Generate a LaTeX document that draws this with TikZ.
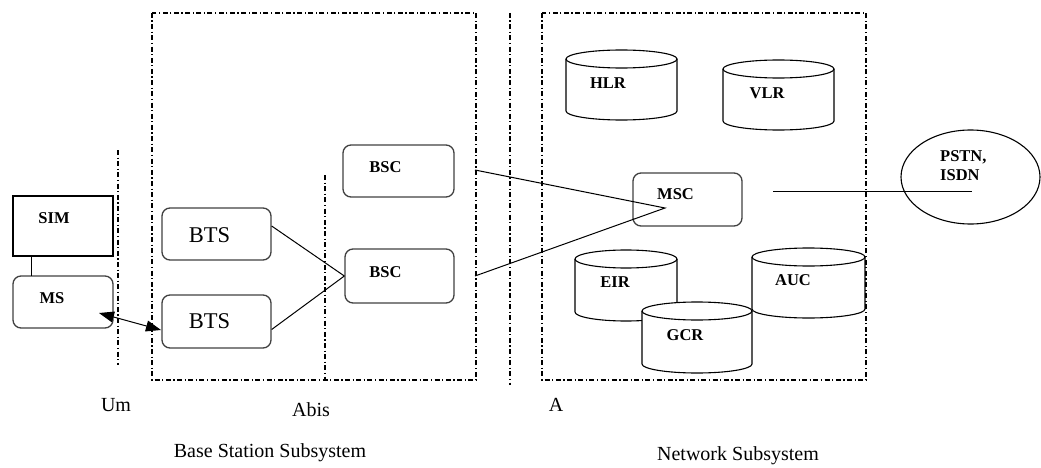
\documentclass[tikz,border=0pt]{standalone}
\usepackage{fontspec}
\setmainfont{Liberation Serif}
\usetikzlibrary{arrows.meta,shapes.geometric}
\begin{document}
\begin{tikzpicture}[x=1pt,y=-1pt,
  dd/.style={line width=1.1pt, dash pattern=on 5pt off 2.5pt on 1.2pt off 2.5pt},
  rbox/.style={draw=black!75, line width=1.3pt, rounded corners=8pt, inner sep=0pt},
  sqbox/.style={draw=black, line width=1.2pt, inner sep=0pt},
  small/.style={font=\fontsize{16.5}{19}\selectfont\bfseries},
  big/.style={font=\fontsize{22.5}{24}\selectfont},
  lab/.style={font=\fontsize{20}{22}\selectfont},
  conn/.style={line width=1pt},
  cyl/.style={line width=1.1pt, draw=black}]
\useasboundingbox (0,0) rectangle (1041,468);

% subsystem frames and interface lines
\draw[dd] (152,13) rectangle (476,380);
\draw[dd] (542,13) rectangle (866,380);
\draw[dd] (118,150) -- (118,365);
\draw[dd] (325,175) -- (325,380);
\draw[dd] (510,13) -- (510,385);

% MS side
\node[sqbox, minimum width=100pt, minimum height=60pt, label={[small,xshift=-9pt,yshift=8pt]center:SIM}] (sim) at (63,226) {};
\node[rbox, minimum width=100pt, minimum height=52pt, label={[small,xshift=-11pt,yshift=4pt]center:MS}] (ms) at (63,302) {};
\draw[conn] (31,256) -- (31,276);

% BTS
\node[rbox, minimum width=109pt, minimum height=52pt, label={[big,xshift=-7pt,yshift=-1pt]center:BTS}] (bts1) at (216.5,234) {};
\node[rbox, minimum width=109pt, minimum height=53pt, label={[big,xshift=-7pt,yshift=0pt]center:BTS}] (bts2) at (216.5,321.5) {};

% BSC
\node[rbox, minimum width=111pt, minimum height=52pt, label={[small,xshift=-13pt,yshift=4pt]center:BSC}] (bsc1) at (398.5,171) {};
\node[rbox, minimum width=109pt, minimum height=54pt, label={[small,xshift=-14pt,yshift=4pt]center:BSC}] (bsc2) at (399.5,276) {};

% MSC
\node[rbox, minimum width=109pt, minimum height=53pt, label={[small,xshift=-12pt,yshift=5pt]center:MSC}] (msc) at (687.5,199.5) {};

% PSTN
\node[draw, ellipse, line width=1.1pt, minimum width=139pt, minimum height=94pt, inner sep=0pt] (pstn) at (970.5,177) {};
\node[small, align=left, anchor=north west, inner sep=0pt] (pstnt) at (940,150) {PSTN,\\ISDN};

% connectors
\draw[conn] (bts1.east) ++(0,-8) coordinate (b1e) -- (bsc2.west);
\draw[conn] (bts2.east) ++(0,8) coordinate (b2e) -- (bsc2.west);
\coordinate (a1) at (475,170);
\coordinate (a2) at (475,276);
\coordinate (mscin) at (665,208);
\draw[conn] (a1) -- (mscin) -- (a2);
\coordinate (mscout) at (773,191);
\coordinate (pstnin) at (972,191);
\draw[conn] (mscout) -- (pstnin);
\coordinate (msarr) at (99,313);
\coordinate (btsarr) at (161,330);
\draw[conn, {Triangle[length=15pt,width=11pt]}-{Triangle[length=15pt,width=11pt]}] (msarr) -- (btsarr);

% cylinders
\newcommand{\drawcyl}[5]{% left, right, top, bottom, name
  \pgfmathsetmacro{\cxx}{(#1+#2)/2}\pgfmathsetmacro{\rxx}{(#2-#1)/2}
  \draw[cyl] (#1,#3+9) -- (#1,#4-9) arc[start angle=180,end angle=360,x radius=\rxx,y radius=-9] -- (#2,#3+9);
  \draw[cyl] (\cxx,#3+9) ellipse[x radius=\rxx, y radius=9];
  \coordinate (#5) at (\cxx,{(#3+#4)/2});
}
\drawcyl{566}{677}{50}{120}{hlr}
\drawcyl{723}{834}{60}{130}{vlr}
\drawcyl{575}{677}{250}{321}{eir}
\drawcyl{752}{865}{248}{318}{auc}
\fill[white] (642,311) rectangle (752,364);
\fill[white] (697,311) ellipse[x radius=55, y radius=9];
\fill[white] (697,364) ellipse[x radius=55, y radius=9];
\drawcyl{642}{752}{302}{373}{gcr}

\node[small] (hlrt) at (608,83) {HLR};
\node[small] (vlrt) at (767,93) {VLR};
\node[small] (eirt) at (615,282) {EIR};
\node[small] (auct) at (793,280) {AUC};
\node[small] (gcrt) at (685,335) {GCR};

% labels
\node[lab] (um) at (116,405) {Um};
\node[lab] (abis) at (311,410) {Abis};
\node[lab] (ai) at (556,405) {A};
\node[lab] (bss) at (270,453) {Base Station Subsystem};
\node[lab] (nss) at (738,456) {Network Subsystem};
\end{tikzpicture}
\end{document}
